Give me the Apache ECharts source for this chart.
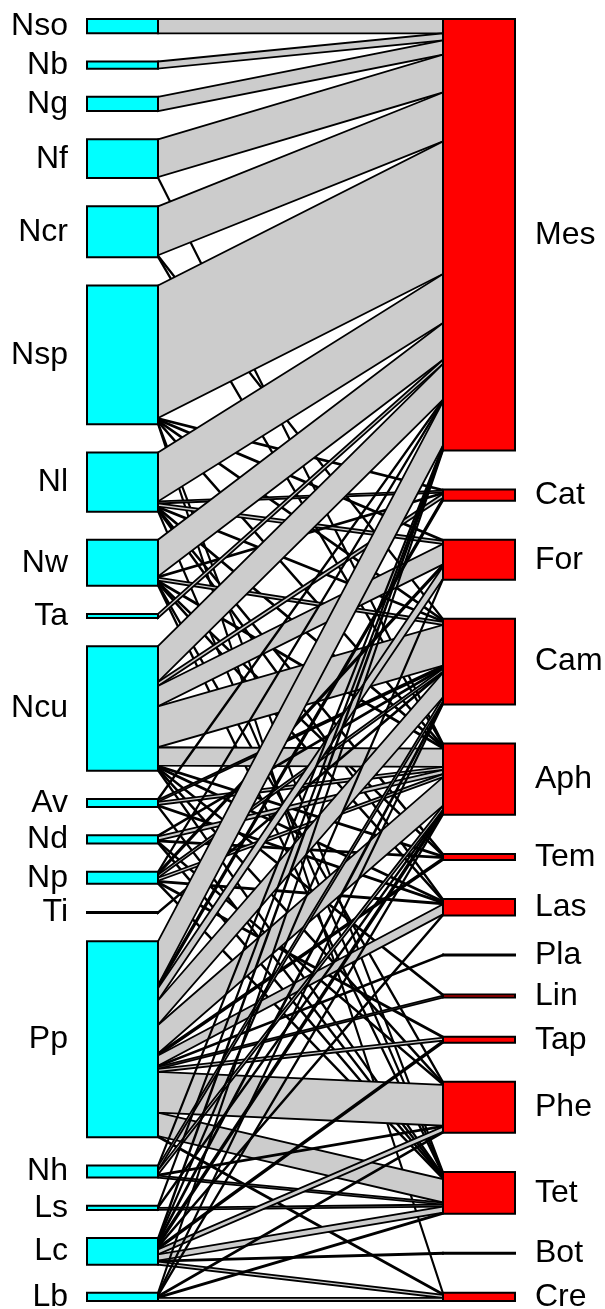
<!DOCTYPE html>
<html><head><meta charset="utf-8">
<script src="https://cdn.jsdelivr.net/npm/echarts@6/dist/echarts.min.js"></script>
<style>html,body{margin:0;padding:0;background:#fff}#c{width:605px;height:1309px}</style>
</head><body><div id="c"></div>
<script>
// lower level (left, cyan) and higher level (right, red) species
const lowerNames = ['Nso','Nb','Ng','Nf','Ncr','Nsp','Nl','Nw','Ta','Ncu','Av','Nd','Np','Ti','Pp','Nh','Ls','Lc','Lb'];
const higherNames = ['Mes','Cat','For','Cam','Aph','Tem','Las','Pla','Lin','Tap','Phe','Tet','Bot','Cre'];
// interaction counts, one row per lower species, columns in higherNames order
//              Mes Cat For Cam Aph Tem Las Pla Lin Tap Phe Tet Bot Cre
const rowNso = [ 14,  0,  0,  0,  0,  0,  0,  0,  0,  0,  0,  0,  0,  0];
const rowNb  = [  7,  0,  0,  0,  0,  0,  0,  0,  0,  0,  0,  0,  0,  0];
const rowNg  = [ 14,  0,  0,  0,  0,  0,  0,  0,  0,  0,  0,  0,  0,  0];
const rowNf  = [ 37,  0,  0,  0,  1,  0,  0,  0,  0,  0,  0,  0,  0,  0];
const rowNcr = [ 48,  0,  0,  1,  1,  0,  0,  0,  0,  0,  0,  0,  0,  0];
const rowNsp = [130,  1,  1,  1,  1,  0,  0,  0,  0,  0,  0,  1,  0,  1];
const rowNl  = [ 48,  2,  3,  1,  1,  1,  1,  0,  0,  0,  0,  1,  0,  0];
const rowNw  = [ 36,  1,  0,  3,  1,  1,  1,  0,  0,  0,  1,  1,  0,  0];
const rowTa  = [  4,  0,  0,  0,  0,  0,  0,  0,  0,  0,  0,  0,  0,  0];
const rowNcu = [ 35,  4, 20, 40, 18,  1,  1,  0,  1,  0,  1,  1,  0,  0];
const rowAv  = [  1,  0,  0,  2,  3,  0,  1,  0,  0,  0,  0,  1,  0,  0];
const rowNd  = [  0,  0,  0,  1,  4,  1,  0,  0,  0,  0,  1,  1,  0,  0];
const rowNp  = [  1,  0,  2,  3,  3,  0,  1,  0,  0,  1,  0,  1,  0,  0];
const rowTi  = [  0,  0,  0,  1,  0,  0,  0,  0,  0,  0,  0,  0,  0,  0];
const rowPp  = [ 43,  3, 12, 24, 28,  2, 10,  1,  2,  3, 40, 23,  0,  1];
const rowNh  = [  1,  0,  0,  4,  4,  0,  0,  0,  0,  0,  1,  2,  0,  0];
const rowLs  = [  1,  0,  0,  0,  1,  0,  0,  0,  0,  0,  0,  2,  0,  0];
const rowLc  = [  2,  0,  1,  2,  3,  0,  1,  0,  0,  2,  5,  6,  1,  3];
const rowLb  = [  1,  0,  0,  1,  1,  0,  0,  0,  0,  0,  1,  1,  0,  3];

const web = [rowNso,rowNb,rowNg,rowNf,rowNcr,rowNsp,rowNl,rowNw,rowTa,rowNcu,rowAv,rowNd,rowNp,rowTi,rowPp,rowNh,rowLs,rowLc,rowLb];

// ---- layout (plotweb style), in axis units 0..1 ----
const nL = lowerNames.length, nH = higherNames.length;
const rowTot = web.map(r => r.reduce((a,b)=>a+b,0));
const colTot = higherNames.map((_,j) => web.reduce((a,r)=>a+r[j],0));
const T = rowTot.reduce((a,b)=>a+b,0);
const boxShare = 0.604;
const ky = boxShare / T;
const gapL = (1-boxShare)/(nL-1), gapH = (1-boxShare)/(nH-1);
const lowTop = [], highTop = [];
let acc = 0;
for (let i=0;i<nL;i++){ lowTop.push(acc); acc += rowTot[i]*ky + gapL; }
acc = 0;
for (let j=0;j<nH;j++){ highTop.push(acc); acc += colTot[j]*ky + gapH; }

const GRID = {left:87, right:90, top:19, bottom:8};
const gridW = 605 - GRID.left - GRID.right;
const xL1 = 71/gridW;       // right edge of lower boxes
const xH0 = 1 - 72/gridW;   // left edge of higher boxes

const links = [];
for (let i=0;i<nL;i++){
  for (let j=0;j<nH;j++){
    if (web[i][j] > 0) links.push([i,j]);
  }
}
function linkGeom(i,j){
  let a = lowTop[i]; for (let k=0;k<j;k++) a += web[i][k]*ky;
  let b = highTop[j]; for (let k=0;k<i;k++) b += web[k][j]*ky;
  const w = web[i][j]*ky;
  return [a, a+w, b, b+w];
}

const chart = echarts.init(document.getElementById('c'), null, {renderer:'canvas'});
const FONT = '32px "Liberation Sans", Arial, sans-serif';
chart.setOption({
  animation:false,
  backgroundColor:'#fff',
  grid: GRID,
  xAxis:{type:'value', min:0, max:1, show:false},
  yAxis:{type:'value', min:0, max:1, inverse:true, show:false},
  series:[
    {
      type:'custom', coordinateSystem:'cartesian2d', clip:false,
      data: links,
      renderItem:(params, api) => {
        const i = api.value(0), j = api.value(1);
        const g = linkGeom(i,j);
        const p1 = api.coord([xL1, g[0]]), p2 = api.coord([xH0, g[2]]);
        const p3 = api.coord([xH0, g[3]]), p4 = api.coord([xL1, g[1]]);
        return {type:'polygon', shape:{points:[p1,p2,p3,p4]},
          style:{fill:'#cccccc', stroke:'#000', lineWidth:1.8, lineJoin:'miter'}};
      }
    },
    {
      type:'custom', coordinateSystem:'cartesian2d', clip:false,
      data: lowerNames.map((n,i)=>[i,0]),
      renderItem:(params, api) => {
        const i = api.value(0);
        const tl = api.coord([0, lowTop[i]]);
        const br = api.coord([xL1, lowTop[i] + rowTot[i]*ky]);
        const cy = (tl[1]+br[1])/2;
        return {type:'group', children:[
          {type:'rect', shape:{x:tl[0], y:tl[1], width:br[0]-tl[0], height:Math.max(br[1]-tl[1],0.5)},
            style:{fill:'#00ffff', stroke:'#000', lineWidth:2}},
          {type:'text', style:{text:lowerNames[i], x:tl[0]-19, y:cy, font:FONT, fill:'#000', align:'right', verticalAlign:'middle'}}
        ]};
      }
    },
    {
      type:'custom', coordinateSystem:'cartesian2d', clip:false,
      data: higherNames.map((n,j)=>[j,0]),
      renderItem:(params, api) => {
        const j = api.value(0);
        const tl = api.coord([xH0, highTop[j]]);
        const br = api.coord([1, highTop[j] + colTot[j]*ky]);
        const cy = (tl[1]+br[1])/2;
        return {type:'group', children:[
          {type:'rect', shape:{x:tl[0], y:tl[1], width:br[0]-tl[0], height:Math.max(br[1]-tl[1],0.5)},
            style:{fill:'#ff0000', stroke:'#000', lineWidth:2}},
          {type:'text', style:{text:higherNames[j], x:br[0]+20, y:cy, font:FONT, fill:'#000', align:'left', verticalAlign:'middle'}}
        ]};
      }
    }
  ]
});
</script>
</body></html>
